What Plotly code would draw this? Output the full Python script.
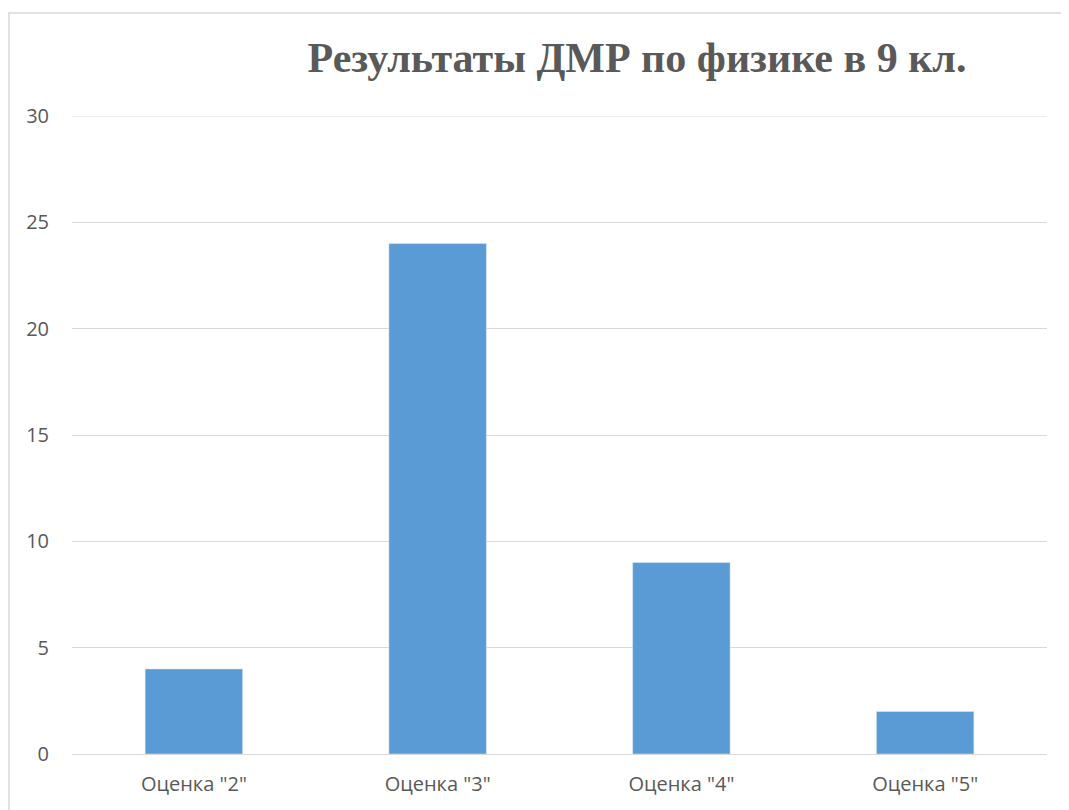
import plotly.graph_objects as go

categories = ['Оценка "2"', 'Оценка "3"', 'Оценка "4"', 'Оценка "5"']
values = [4, 24, 9, 2]
y_ticks = [0, 5, 10, 15, 20, 25, 30]

W, H = 1061, 802
L, R, T, B = 64, 22, 108, 56
pw, ph = W - L - R, H - T - B

fig = go.Figure()
fig.add_trace(go.Bar(x=categories, y=values, marker_color="#5B9BD5", width=0.4))

fig.update_layout(
    width=W, height=H,
    margin=dict(l=L, r=R, t=T, b=B),
    paper_bgcolor="white", plot_bgcolor="white",
    showlegend=False,
    title=dict(text="<b>Результаты ДМР по физике в 9 кл.</b>",
               font=dict(family="Liberation Serif", size=42, color="#595959"),
               x=629 / W, xanchor="center", y=1 - 49 / H, yanchor="middle"),
    xaxis=dict(tickfont=dict(family="Open Sans", size=20, color="#595959"),
               showgrid=False, showline=False, ticks="", ticklabelstandoff=16),
    yaxis=dict(range=[0, 30], tickvals=y_ticks,
               tickfont=dict(family="Open Sans", size=20, color="#595959"),
               showgrid=True, gridcolor="#d9d9d9", gridwidth=1,
               zeroline=True, zerolinecolor="#d9d9d9", zerolinewidth=1,
               ticks="", ticklabelstandoff=22),
    shapes=[
        dict(type="line", xref="paper", yref="y",
             x0=0, x1=1, y0=y_ticks[-1], y1=y_ticks[-1],
             line=dict(color="#d9d9d9", width=1)),
        dict(type="line", xref="paper", yref="paper",
             x0=(0 - L) / pw, x1=(W + 10 - L) / pw,
             y0=(H - B - 5) / ph, y1=(H - B - 5) / ph,
             line=dict(color="#d9d9d9", width=1.5)),
        dict(type="line", xref="paper", yref="paper",
             x0=(1 - L) / pw, x1=(1 - L) / pw,
             y0=(H - B - 5) / ph, y1=(-B - 10) / ph,
             line=dict(color="#d9d9d9", width=1.5)),
    ],
)

fig.write_html("out.html")
